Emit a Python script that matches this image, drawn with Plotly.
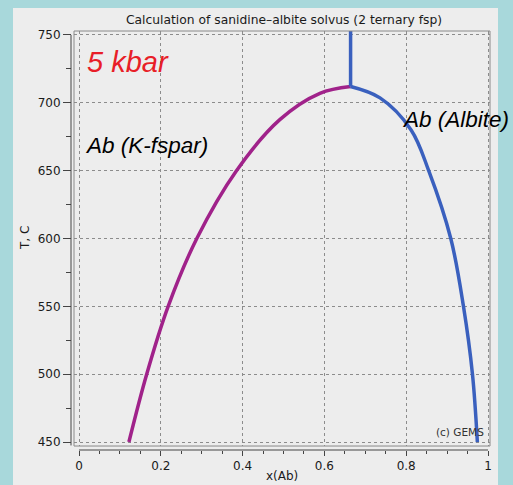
import plotly.graph_objects as go

# K-feldspar (sanidine) limb of the solvus
kfs_x = [0.122, 0.1655, 0.218, 0.288, 0.385, 0.491, 0.589, 0.664]
kfs_T = [450, 500, 550, 600, 650, 687.6, 707, 712]
# Albite limb of the solvus
ab_x = [0.664, 0.736, 0.812, 0.855, 0.909, 0.940, 0.962, 0.974]
ab_T = [712, 703.6, 680, 650, 600, 550, 500, 450]
# vertical line above the crest
crest_x = [0.664, 0.664]
crest_T = [712, 760]

x_ticks = [0, 0.2, 0.4, 0.6, 0.8, 1]
x_tick_labels = ["0", "0.2", "0.4", "0.6", "0.8", "1"]
y_ticks = [450, 500, 550, 600, 650, 700, 750]

MAG = "rgb(160,34,138)"
BLUE = "rgb(58,96,190)"
TEAL = "rgb(168,216,219)"
PANEL = "rgb(237,237,237)"
FONT = "DejaVu Sans"

fig = go.Figure()
fig.add_trace(go.Scatter(x=kfs_x, y=kfs_T, mode="lines",
                         line=dict(color=MAG, width=3.5, shape="spline", smoothing=1.0),
                         showlegend=False))
fig.add_trace(go.Scatter(x=ab_x, y=ab_T, mode="lines",
                         line=dict(color=BLUE, width=3.5, shape="spline", smoothing=1.0),
                         showlegend=False))
fig.add_trace(go.Scatter(x=crest_x, y=crest_T, mode="lines",
                         line=dict(color=BLUE, width=3.5),
                         showlegend=False))

W, H = 513, 485
L, R, T, B = 71, 23, 31, 33
pw, ph = W - L - R, H - T - B

def px_x(p):
    return (p - L) / pw

def px_y(p):
    return (H - B - p) / ph

fig.update_layout(
    width=W, height=H,
    margin=dict(l=L, r=R, t=T, b=B, pad=0),
    paper_bgcolor=TEAL,
    plot_bgcolor="white",
    font=dict(family=FONT, color="#1a1a1a"),
    xaxis=dict(
        domain=[px_x(74), 1], anchor="free", position=0,
        range=[-0.01222, 1.00489],
        tickvals=x_ticks, ticktext=x_tick_labels,
        ticks="outside", ticklen=5, tickcolor="#444", tickwidth=1,
        tickfont=dict(size=12, color="#1a1a1a", family=FONT),
        minor=dict(dtick=0.05, ticks="outside", ticklen=3, tickcolor="#444", showgrid=False),
        showgrid=True, gridcolor="#8c8c8c", griddash="dot", gridwidth=1,
        zeroline=False, showline=False,
    ),
    yaxis=dict(
        domain=[px_y(448), 1], anchor="free", position=0,
        range=[447.07, 752.9],
        tickvals=y_ticks,
        ticks="outside", ticklen=8, tickcolor="#444", tickwidth=1,
        tickfont=dict(size=12, color="#1a1a1a", family=FONT),
        minor=dict(dtick=25, ticks="outside", ticklen=5, tickcolor="#444", showgrid=False),
        showgrid=True, gridcolor="#8c8c8c", griddash="dot", gridwidth=1,
        zeroline=False, showline=False,
    ),
    shapes=[
        dict(type="rect", xref="paper", yref="paper",
             x0=px_x(13), x1=px_x(498), y0=px_y(8), y1=px_y(490),
             fillcolor=PANEL, line=dict(width=0), layer="below"),
        dict(type="rect", xref="x domain", yref="y domain", x0=0, x1=1, y0=0, y1=1,
             line=dict(color="#8a8a8a", width=1), layer="above"),
        dict(type="line", xref="x", yref="paper", x0=0, x1=1, y0=0, y1=0,
             line=dict(color="#444", width=1)),
        dict(type="line", xref="paper", yref="y", x0=0, x1=0, y0=447.5, y1=750,
             line=dict(color="#444", width=1)),
    ],
    annotations=[
        dict(text="Calculation of sanidine\u2013albite solvus (2 ternary fsp)",
             xref="paper", yref="paper", x=px_x(283.5), y=px_y(20),
             xanchor="center", yanchor="middle", showarrow=False,
             font=dict(size=12.3, color="#1a1a1a", family=FONT)),
        dict(text="T, C", xref="paper", yref="paper", x=px_x(25), y=px_y(239),
             xanchor="center", yanchor="middle", textangle=-90, showarrow=False,
             font=dict(size=12, color="#1a1a1a", family=FONT)),
        dict(text="x(Ab)", xref="paper", yref="paper", x=px_x(282), y=px_y(478),
             xanchor="center", yanchor="middle", showarrow=False,
             font=dict(size=12, color="#1a1a1a", family=FONT)),
        dict(text="<i>5 kbar</i>", xref="paper", yref="paper", x=px_x(85), y=px_y(62),
             xanchor="left", yanchor="middle", showarrow=False,
             font=dict(size=29, color="rgb(232,30,40)", family="Liberation Sans")),
        dict(text="<i>Ab (K-fspar)</i>", xref="paper", yref="paper", x=px_x(83), y=px_y(146),
             xanchor="left", yanchor="middle", showarrow=False,
             font=dict(size=22.5, color="black", family="Liberation Sans")),
        dict(text="<i>Ab (Albite)</i>", xref="paper", yref="paper", x=px_x(400), y=px_y(120),
             xanchor="left", yanchor="middle", showarrow=False,
             font=dict(size=22.5, color="black", family="Liberation Sans")),
        dict(text="(c) GEMS", xref="paper", yref="paper", x=px_x(486), y=px_y(434),
             xanchor="right", yanchor="middle", showarrow=False,
             font=dict(size=10.5, color="#333", family=FONT)),
    ],
)

fig.write_html("out.html")
